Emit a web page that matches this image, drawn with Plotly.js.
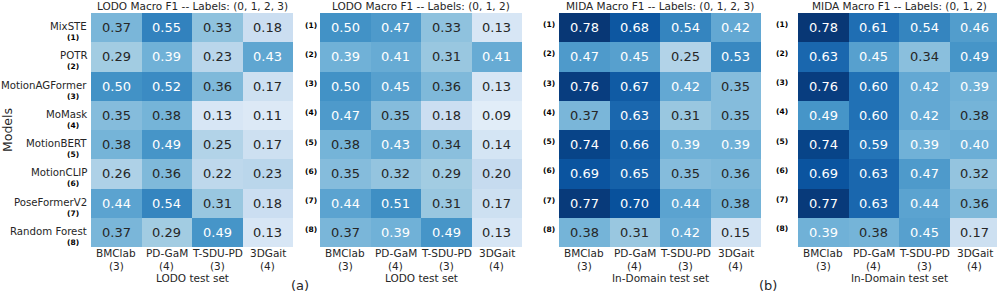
<!DOCTYPE html>
<html>
<head>
<meta charset="utf-8">
<script src="https://cdn.plot.ly/plotly-3.0.1.min.js"></script>
<style>html,body{margin:0;padding:0;background:#fff;}#chart{width:997px;height:293px;}</style>
</head>
<body>
<div id="chart"></div>
<script>
// ---------- data ----------
const models = ['MixSTE','POTR','MotionAGFormer','MoMask','MotionBERT','MotionCLIP','PoseFormerV2','Random Forest'];
const modelIds = ['(1)','(2)','(3)','(4)','(5)','(6)','(7)','(8)'];
const datasets = ['BMClab','PD-GaM','T-SDU-PD','3DGait'];
const datasetCounts = ['(3)','(4)','(3)','(4)'];
const titles = ['LODO Macro F1 -- Labels: (0, 1, 2, 3)','LODO Macro F1 -- Labels: (0, 1, 2)','MIDA Macro F1 -- Labels: (0, 1, 2, 3)','MIDA Macro F1 -- Labels: (0, 1, 2)'];
const xTitles = ['LODO test set','LODO test set','In-Domain test set','In-Domain test set'];
const lodo0123 = [
  [0.37,0.55,0.33,0.18],
  [0.29,0.39,0.23,0.43],
  [0.50,0.52,0.36,0.17],
  [0.35,0.38,0.13,0.11],
  [0.38,0.49,0.25,0.17],
  [0.26,0.36,0.22,0.23],
  [0.44,0.54,0.31,0.18],
  [0.37,0.29,0.49,0.13]
];
const lodo012 = [
  [0.50,0.47,0.33,0.13],
  [0.39,0.41,0.31,0.41],
  [0.50,0.45,0.36,0.13],
  [0.47,0.35,0.18,0.09],
  [0.38,0.43,0.34,0.14],
  [0.35,0.32,0.29,0.20],
  [0.44,0.51,0.31,0.17],
  [0.37,0.39,0.49,0.13]
];
const mida0123 = [
  [0.78,0.68,0.54,0.42],
  [0.47,0.45,0.25,0.53],
  [0.76,0.67,0.42,0.35],
  [0.37,0.63,0.31,0.35],
  [0.74,0.66,0.39,0.39],
  [0.69,0.65,0.35,0.36],
  [0.77,0.70,0.44,0.38],
  [0.38,0.31,0.42,0.15]
];
const mida012 = [
  [0.78,0.61,0.54,0.46],
  [0.63,0.45,0.34,0.49],
  [0.76,0.60,0.42,0.39],
  [0.49,0.60,0.42,0.38],
  [0.74,0.59,0.39,0.40],
  [0.69,0.63,0.47,0.32],
  [0.77,0.63,0.44,0.36],
  [0.39,0.38,0.45,0.17]
];
const matrices = [lodo0123, lodo012, mida0123, mida012];

// ---------- style ----------
const W = 997, H = 293;
const FONT = 'DejaVu Sans, sans-serif';
const DARK = '#262626';
const blues = [[0,'#f7fbff'],[0.125,'#deebf7'],[0.25,'#c6dbef'],[0.375,'#9ecae1'],[0.5,'#6baed6'],[0.625,'#4292c6'],[0.75,'#2171b5'],[0.875,'#08519c'],[1,'#08306b']];
const ZMIN = 0, ZMAX = 0.8, WHITE_TEXT_AT = 0.385;
const panelLeft = [91, 320, 559, 798];
const cellW = 50.5;
const gridTop = 13, gridBottom = 247;
const rowH = (gridBottom - gridTop) / models.length;
const idX = [73, 311, 549, 782];
const idDy = [10, -2.5, -3, -3.5];

const px = x => x / W;
const py = y => 1 - y / H;

const traces = [];
const annotations = [];
const layout = {
  width: W, height: H,
  margin: {l:0, r:0, t:0, b:0},
  paper_bgcolor: '#fff', plot_bgcolor: '#fff',
  showlegend: false,
  font: {family: FONT, color: DARK, size: 10.5},
  annotations: annotations
};

const xIdx = datasets.map((_, j) => j);
const yIdx = models.map((_, i) => i);

matrices.forEach((m, p) => {
  const k = p === 0 ? '' : String(p + 1);
  const xa = 'x' + k, ya = 'y' + k;
  const left = panelLeft[p];
  const right = Math.min(left + cellW * datasets.length, W);
  const visCells = (right - left) / cellW;
  traces.push({
    type: 'heatmap', z: m, x: xIdx, y: yIdx, xaxis: xa, yaxis: ya,
    colorscale: blues, zmin: ZMIN, zmax: ZMAX, showscale: false,
    xgap: 0, ygap: 0, hoverinfo: 'skip'
  });
  layout['xaxis' + k] = {
    domain: [px(left), px(right)], range: [-0.5, -0.5 + visCells],
    showticklabels: false, showgrid: false, zeroline: false, ticks: '', anchor: ya, fixedrange: true
  };
  layout['yaxis' + k] = {
    domain: [py(gridBottom), py(gridTop)], range: [models.length - 0.5, -0.5],
    showticklabels: false, showgrid: false, zeroline: false, ticks: '', anchor: xa, fixedrange: true
  };
  m.forEach((row, i) => row.forEach((v, j) => {
    annotations.push({
      xref: xa, yref: ya, x: j, y: i, text: v.toFixed(2), showarrow: false,
      font: {family: FONT, size: 13, color: v >= WHITE_TEXT_AT ? '#ffffff' : DARK},
      xanchor: 'center', yanchor: 'middle'
    });
  }));
  annotations.push({
    xref: 'paper', yref: 'paper', x: px(left + cellW * 2), y: py(6.5),
    text: titles[p], showarrow: false, xanchor: 'center', yanchor: 'middle',
    font: {family: FONT, size: 10.5, color: DARK}
  });
  datasets.forEach((d, j) => {
    annotations.push({
      xref: xa, yref: 'paper', x: j, y: py(253), text: d, showarrow: false,
      xanchor: 'center', yanchor: 'middle', font: {family: FONT, size: 10.5, color: DARK}
    });
    annotations.push({
      xref: xa, yref: 'paper', x: j, y: py(266), text: datasetCounts[j], showarrow: false,
      xanchor: 'center', yanchor: 'middle', font: {family: FONT, size: 10.5, color: DARK}
    });
  });
  annotations.push({
    xref: 'paper', yref: 'paper', x: px(left + cellW * 2), y: py(277.5),
    text: xTitles[p], showarrow: false, xanchor: 'center', yanchor: 'middle',
    font: {family: FONT, size: 10.5, color: DARK}
  });
  models.forEach((name, i) => {
    const cy = gridTop + rowH * (i + 0.5);
    if (p === 0) {
      annotations.push({
        xref: 'paper', yref: 'paper', x: px(89), y: py(cy - 1), text: name, showarrow: false,
        xanchor: 'right', yanchor: 'middle', font: {family: FONT, size: 10.2, color: DARK}
      });
    }
    annotations.push({
      xref: 'paper', yref: 'paper', x: px(idX[p]), y: py(cy + idDy[p]), text: '<b>' + modelIds[i] + '</b>',
      showarrow: false, xanchor: 'center', yanchor: 'middle', font: {family: FONT, size: 7.5, color: '#000'}
    });
  });
});

annotations.push({
  xref: 'paper', yref: 'paper', x: px(8), y: py(130), text: 'Models', textangle: -90,
  showarrow: false, xanchor: 'center', yanchor: 'middle', font: {family: FONT, size: 12.5, color: DARK}
});
annotations.push({xref:'paper', yref:'paper', x: px(300), y: py(285.5), text:'(a)', showarrow:false,
  xanchor:'center', yanchor:'middle', font:{family: FONT, size: 13, color: DARK}});
annotations.push({xref:'paper', yref:'paper', x: px(768), y: py(285.5), text:'(b)', showarrow:false,
  xanchor:'center', yanchor:'middle', font:{family: FONT, size: 13, color: DARK}});

Plotly.newPlot('chart', traces, layout, {staticPlot: true, displayModeBar: false});
</script>
</body>
</html>
